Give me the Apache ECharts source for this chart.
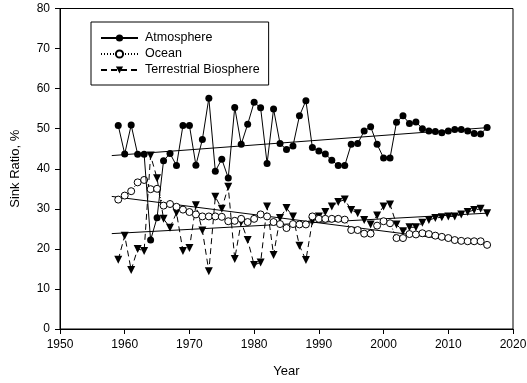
<!DOCTYPE html>
<html>
<head>
<meta charset="utf-8">
<script src="https://cdn.jsdelivr.net/npm/echarts@6/dist/echarts.min.js"></script>
<style>
  html, body { margin: 0; padding: 0; background: #fff; }
  #main { width: 527px; height: 383px; }
</style>
</head>
<body>
<div id="main"></div>
<script>
var years = [1959, 1960, 1961, 1962, 1963, 1964, 1965, 1966, 1967, 1968,
    1969, 1970, 1971, 1972, 1973, 1974, 1975, 1976, 1977, 1978,
    1979, 1980, 1981, 1982, 1983, 1984, 1985, 1986, 1987, 1988,
    1989, 1990, 1991, 1992, 1993, 1994, 1995, 1996, 1997, 1998,
    1999, 2000, 2001, 2002, 2003, 2004, 2005, 2006, 2007, 2008,
    2009, 2010, 2011, 2012, 2013, 2014, 2015, 2016];

var atmosphere = [50.8, 43.7, 50.9, 43.6, 43.6, 22.2, 27.8, 42.0, 43.8, 40.8,
    50.8, 50.8, 40.9, 47.3, 57.6, 39.4, 42.4, 37.7, 55.3, 46.1,
    51.1, 56.6, 55.2, 41.3, 54.9, 46.3, 44.8, 45.7, 53.2, 57.0,
    45.3, 44.4, 43.7, 42.1, 40.8, 40.8, 46.1, 46.3, 49.4, 50.5,
    46.1, 42.7, 42.7, 51.6, 53.2, 51.3, 51.7, 50.0, 49.4, 49.3,
    49.0, 49.4, 49.8, 49.8, 49.4, 48.8, 48.7, 50.3];

var ocean = [32.3, 33.3, 34.4, 36.6, 37.2, 34.9, 35.0, 30.8, 31.2, 30.5,
    29.8, 29.2, 28.6, 28.1, 28.1, 28.1, 28.0, 26.9, 27.0, 27.5,
    26.7, 27.5, 28.6, 28.1, 26.7, 26.2, 25.2, 26.2, 26.1, 26.1,
    28.1, 27.5, 27.5, 27.5, 27.5, 27.3, 24.7, 24.7, 23.8, 23.8,
    25.8, 26.9, 26.4, 22.7, 22.7, 23.7, 23.6, 23.9, 23.7, 23.3,
    23.0, 22.7, 22.2, 22.0, 21.9, 21.9, 21.9, 21.0];

var terrestrial = [17.3, 23.3, 14.7, 20.0, 19.5, 43.3, 37.6, 27.5, 25.3, 29.0,
    19.5, 20.2, 30.9, 24.6, 14.4, 33.0, 30.0, 35.5, 17.5, 26.7,
    22.2, 16.0, 16.6, 30.6, 18.5, 27.7, 30.2, 28.1, 20.8, 17.2,
    26.9, 28.1, 29.2, 30.6, 31.7, 32.3, 29.7, 28.9, 27.2, 26.1,
    28.3, 30.6, 31.1, 26.1, 24.4, 25.4, 25.4, 26.5, 27.2, 27.7,
    27.9, 28.1, 28.1, 28.6, 29.2, 29.7, 30.0, 28.9];

var seriesNames = ['Atmosphere', 'Ocean', 'Terrestrial Biosphere'];
var fitRange = [1958, 2016];

var font = 'Liberation Sans, Arial, sans-serif';

function pairs(vals) {
    return years.map(function (y, i) { return [y, vals[i]]; });
}

// least squares line over the years, drawn across fitRange
function fitLine(vals) {
    var n = years.length, sx = 0, sy = 0, sxx = 0, sxy = 0;
    for (var i = 0; i < n; i++) {
        sx += years[i]; sy += vals[i];
        sxx += years[i] * years[i]; sxy += years[i] * vals[i];
    }
    var b = (n * sxy - sx * sy) / (n * sxx - sx * sx);
    var a = (sy - b * sx) / n;
    return fitRange.map(function (x) { return [x, a + b * x]; });
}

function trend(vals) {
    return {
        type: 'line',
        data: fitLine(vals),
        symbol: 'none',
        silent: true,
        z: 1,
        lineStyle: { color: '#000', width: 1 }
    };
}

var myChart = echarts.init(document.getElementById('main'));
myChart.setOption({
    animation: false,
    backgroundColor: '#fff',
    textStyle: { fontFamily: font },
    grid: {
        left: 60,
        right: 14,
        top: 8.5,
        bottom: 54,
        outerBoundsMode: 'none',
        show: true,
        borderColor: '#000',
        borderWidth: 1
    },
    legend: {
        data: seriesNames,
        orient: 'vertical',
        left: 91,
        top: 22,
        itemWidth: 37,
        itemHeight: 9,
        itemGap: 2,
        padding: [9, 9, 8, 9],
        backgroundColor: '#fff',
        borderColor: '#000',
        borderWidth: 1,
        borderRadius: 0,
        textStyle: {
            fontFamily: font,
            fontSize: 12.5,
            color: '#000',
            lineHeight: 14,
            padding: [0, 0, 0, 2]
        }
    },
    xAxis: {
        type: 'value',
        min: 1950,
        max: 2020,
        interval: 10,
        name: 'Year',
        nameLocation: 'middle',
        nameGap: 36,
        nameTextStyle: { fontFamily: font, fontSize: 13, color: '#000' },
        splitLine: { show: false },
        axisLine: { onZero: false, lineStyle: { color: '#000', width: 1 } },
        axisTick: { length: 5, lineStyle: { color: '#000' } },
        axisLabel: {
            margin: 10, fontFamily: font, fontSize: 12, color: '#000',
            formatter: function (v) { return String(v); }
        }
    },
    yAxis: {
        type: 'value',
        min: 0,
        max: 80,
        interval: 10,
        name: 'Sink Ratio, %',
        nameLocation: 'middle',
        nameGap: 38,
        nameTextStyle: { fontFamily: font, fontSize: 13, color: '#000' },
        splitLine: { show: false },
        axisLine: { show: true, lineStyle: { color: '#000', width: 1 } },
        axisTick: { show: true, length: 5, lineStyle: { color: '#000' } },
        axisLabel: { margin: 10, fontFamily: font, fontSize: 12, color: '#000' }
    },
    series: [
        {
            name: 'Atmosphere',
            type: 'line',
            data: pairs(atmosphere),
            symbol: 'circle',
            symbolSize: 7,
            z: 4,
            itemStyle: { color: '#000' },
            lineStyle: { color: '#000', width: 1 }
        },
        {
            name: 'Ocean',
            type: 'line',
            data: pairs(ocean),
            symbol: 'circle',
            symbolSize: 7,
            z: 3,
            itemStyle: { color: '#fff', borderColor: '#000', borderWidth: 1 },
            lineStyle: { color: '#000', width: 1, type: [1, 2] }
        },
        {
            name: 'Terrestrial Biosphere',
            type: 'line',
            data: pairs(terrestrial),
            symbol: 'triangle',
            symbolRotate: 180,
            symbolSize: 8,
            z: 2,
            itemStyle: { color: '#000' },
            lineStyle: { color: '#000', width: 1, type: [6, 4] }
        },
        trend(atmosphere),
        trend(ocean),
        trend(terrestrial)
    ]
});
</script>
</body>
</html>
